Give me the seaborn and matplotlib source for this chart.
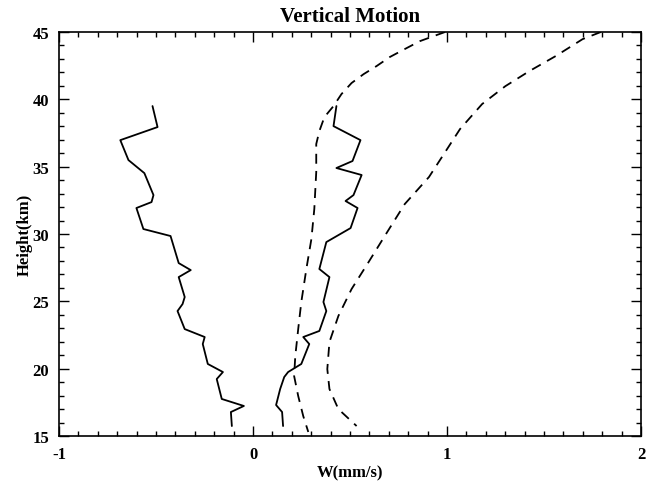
import matplotlib
matplotlib.use("Agg")
import matplotlib.pyplot as plt
import seaborn as sns
from matplotlib.ticker import MultipleLocator

# Left solid profile
w_left = [-0.518, -0.492, -0.684, -0.642, -0.560, -0.513, -0.523, -0.601, -0.565, -0.425,
          -0.383, -0.321, -0.383, -0.352, -0.363, -0.389, -0.352, -0.249, -0.259, -0.233,
          -0.155, -0.187, -0.161, -0.047, -0.114, -0.109]
h_left = [39.50, 37.94, 36.97, 35.49, 34.52, 32.89, 32.37, 31.93, 30.37, 29.85,
          27.84, 27.32, 26.80, 25.32, 24.80, 24.28, 22.94, 22.35, 21.83, 20.35,
          19.75, 19.23, 17.75, 17.23, 16.78, 15.74]

# Middle solid profile
w_mid = [0.430, 0.415, 0.554, 0.513, 0.430, 0.560, 0.518, 0.477, 0.539, 0.503,
         0.378, 0.342, 0.394, 0.363, 0.378, 0.342, 0.259, 0.290, 0.249, 0.181,
         0.161, 0.140, 0.119, 0.150, 0.155]
h_mid = [39.50, 38.01, 36.97, 35.42, 34.90, 34.38, 32.89, 32.45, 31.93, 30.44,
         29.40, 27.40, 26.80, 24.95, 24.28, 22.80, 22.35, 21.83, 20.35, 19.75,
         19.38, 18.49, 17.30, 16.78, 15.74]

# Inner dashed curve
w_dash1 = [0.990, 0.860, 0.782, 0.705, 0.637, 0.570, 0.508, 0.456, 0.415, 0.368,
           0.342, 0.326, 0.326, 0.316, 0.301, 0.275, 0.249, 0.233, 0.218, 0.212,
           0.233, 0.259, 0.285]
h_dash1 = [45.00, 44.32, 43.73, 43.14, 42.47, 41.87, 41.21, 40.39, 39.50, 38.68,
           37.64, 36.68, 34.60, 31.85, 29.63, 27.40, 24.95, 22.94, 20.94, 19.45,
           17.97, 16.48, 15.30]

# Outer dashed curve
w_dash2 = [1.793, 1.699, 1.560, 1.425, 1.301, 1.181, 1.067, 0.984, 0.907, 0.782,
           0.679, 0.596, 0.508, 0.440, 0.394, 0.383, 0.394, 0.440, 0.534]
h_dash2 = [45.00, 44.47, 43.21, 42.10, 40.98, 39.65, 37.79, 35.94, 34.23, 32.22,
           29.85, 27.92, 25.91, 23.91, 21.98, 19.97, 18.49, 17.00, 15.74]

x_ticks = [-1, 0, 1, 2]
y_ticks = [15, 20, 25, 30, 35, 40, 45]

sns.set_theme(style="ticks")
plt.rcParams['font.family'] = ['Liberation Serif', 'DejaVu Serif']
plt.rcParams['font.weight'] = 'bold'
plt.rcParams['text.color'] = 'black'
plt.rcParams['axes.labelcolor'] = 'black'
plt.rcParams['xtick.color'] = 'black'
plt.rcParams['ytick.color'] = 'black'

fig = plt.figure(figsize=(6.54, 4.85), dpi=100)
ax = fig.add_axes([59/654, 48/485, 582/654, 404/485])

lw = 1.3
sns.lineplot(x=w_left, y=h_left, sort=False, estimator=None, color='black', lw=lw, ax=ax)
sns.lineplot(x=w_mid, y=h_mid, sort=False, estimator=None, color='black', lw=lw, ax=ax)
sns.lineplot(x=w_dash1, y=h_dash1, sort=False, estimator=None, color='black', lw=lw, ax=ax)
sns.lineplot(x=w_dash2, y=h_dash2, sort=False, estimator=None, color='black', lw=lw, ax=ax)
for line in ax.get_lines()[2:]:
    line.set_dashes((5.5, 4))

ax.set_xlim(-1, 2)
ax.set_ylim(15, 45)
ax.set_xticks(x_ticks)
ax.set_yticks(y_ticks)
ax.set_xticklabels([str(v) for v in x_ticks])
ax.set_yticklabels([str(v) for v in y_ticks])
ax.xaxis.set_minor_locator(MultipleLocator(0.1))
ax.yaxis.set_minor_locator(MultipleLocator(1))
ax.tick_params(which='both', direction='in', top=True, right=True, colors='black',
               labelcolor='black', width=1)
ax.tick_params(which='major', length=7, labelsize=12, pad=7)
ax.tick_params(which='minor', length=3.5)
for lab in ax.get_xticklabels() + ax.get_yticklabels():
    lab.set_fontweight('bold')
    lab.set_color('black')
for sp in ax.spines.values():
    sp.set_visible(True)
    sp.set_color('black')
    sp.set_linewidth(1.2)

ax.set_xlabel('W(mm/s)', fontsize=12, fontweight='bold', labelpad=2, color='black')
ax.set_ylabel('Height(km)', fontsize=12, fontweight='bold', labelpad=0, color='black')
ax.set_title('Vertical Motion', fontsize=15, fontweight='bold', pad=8, color='black')
ax.grid(False)

fig.savefig('out.png', dpi=100, facecolor='white')
